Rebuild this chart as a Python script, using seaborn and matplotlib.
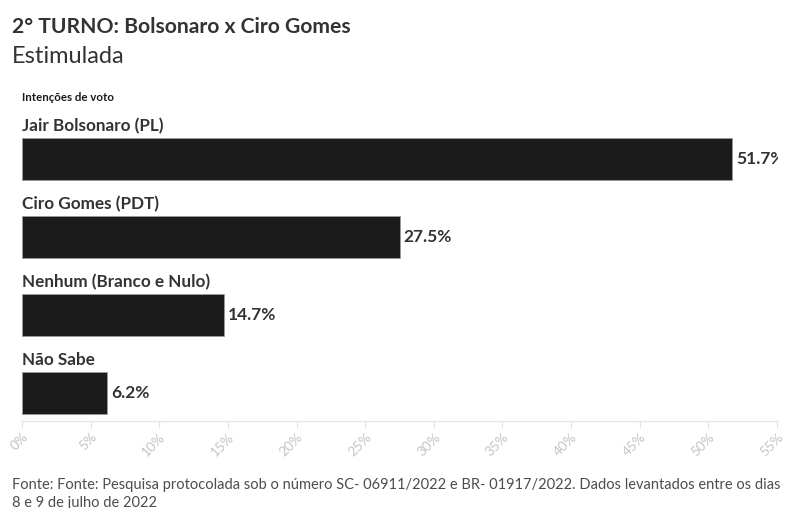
import matplotlib
matplotlib.use("Agg")
import matplotlib.pyplot as plt
import seaborn as sns
import pandas as pd
from matplotlib.transforms import Bbox, TransformedBbox

categorias = ["Jair Bolsonaro (PL)", "Ciro Gomes (PDT)", "Nenhum (Branco e Nulo)", "Não Sabe"]
valores = [51.7, 27.5, 14.7, 6.2]
ticks = [0, 5, 10, 15, 20, 25, 30, 35, 40, 45, 50, 55]
tick_labels = [f"{t}%" for t in ticks]

df = pd.DataFrame({"categoria": categorias, "valor": valores})

sns.set_theme(style="white")
plt.rcParams["font.family"] = ["Lato", "DejaVu Sans"]

W, H = 796, 508
fig = plt.figure(figsize=(W / 100, H / 100), dpi=100)
ax_left, ax_right = 22 / W, 777 / W
ax_top, ax_bottom = 110, 421
ax = fig.add_axes([ax_left, 1 - ax_bottom / H, ax_right - ax_left, (ax_bottom - ax_top) / H])

sns.barplot(data=df, x="valor", y="categoria", orient="h", ax=ax,
            color="#1b1b1b", saturation=1, width=0.54,
            edgecolor="#9a9a9a", linewidth=0.6)

ax.set_xlim(0, 55)
ax.set_ylim(3.36, -0.63)
ax.set_xticks(ticks)
ax.set_xticklabels(tick_labels, rotation=45, ha="right", rotation_mode="anchor",
                   color="#c4c4c4", fontsize=9.8)
ax.tick_params(axis="x", direction="out", length=5, width=0.8, color="#e3e3e3",
               pad=2, bottom=True)
ax.set_yticks([])
ax.set_xlabel("")
ax.set_ylabel("")
for s in ["top", "right", "left"]:
    ax.spines[s].set_visible(False)
ax.spines["bottom"].set_color("#e6e6e6")
ax.spines["bottom"].set_linewidth(1)

clip = TransformedBbox(Bbox([[0, 0], [778 / W, 1]]), fig.transFigure)
for i, (cat, v) in enumerate(zip(categorias, valores)):
    ax.annotate(cat, xy=(0, i - 0.27), xytext=(0, 2.5), textcoords="offset points",
                ha="left", va="bottom", fontsize=12.3, fontweight="bold", color="#333333")
    t = ax.annotate(f"{v}%", xy=(v, i), xytext=(3, 0), textcoords="offset points",
                    ha="left", va="center", fontsize=12.5, fontweight="bold", color="#333333",
                    annotation_clip=False)
    t.set_clip_box(clip)
    t.set_clip_on(True)

fig.text(12 / W, 1 - 33 / H, "2° TURNO: Bolsonaro x Ciro Gomes", fontsize=15.2,
         fontweight="bold", color="#333333", ha="left", va="baseline")
fig.text(12 / W, 1 - 63 / H, "Estimulada", fontsize=17, fontweight="normal",
         color="#333333", ha="left", va="baseline")
fig.text(22 / W, 1 - 101 / H, "Intenções de voto", fontsize=8.3, fontweight="bold",
         color="#1a1a1a", ha="left", va="baseline")
fig.text(12 / W, 1 - 478 / H,
         "Fonte: Fonte: Pesquisa protocolada sob o número SC- 06911/2022 e BR- 01917/2022. Dados levantados entre os dias\n8 e 9 de julho de 2022",
         fontsize=10.5, color="#4d4d4d", ha="left", va="top", linespacing=1.35)

fig.savefig("out.png", dpi=100)
